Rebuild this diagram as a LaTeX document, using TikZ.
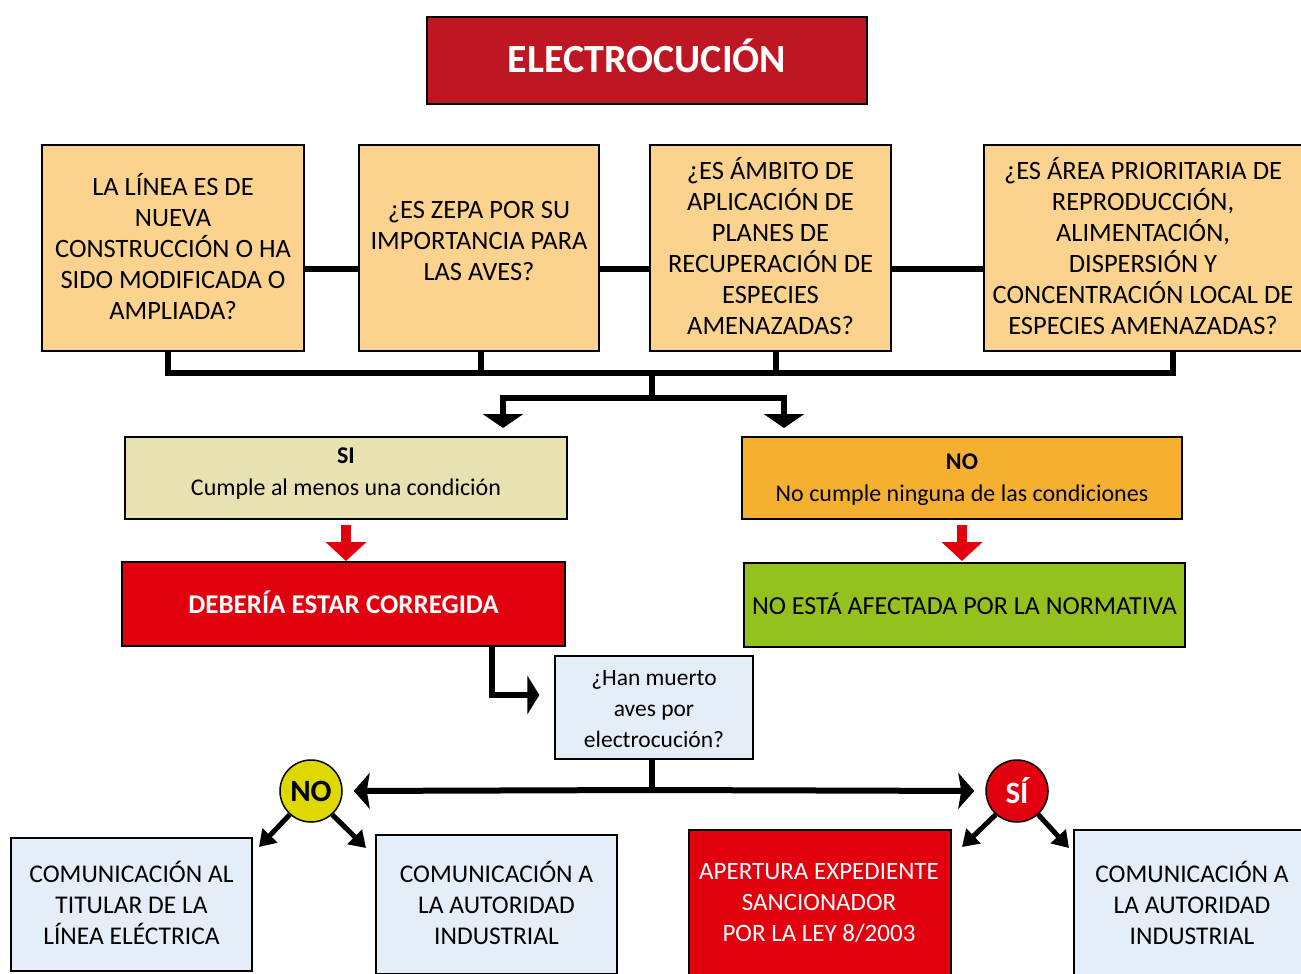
\documentclass[tikz,border=0pt]{standalone}
\usepackage{fontspec}
\setmainfont{Carlito}
\usetikzlibrary{arrows.meta,calc}
\definecolor{titlered}{RGB}{190,22,34}
\definecolor{peach}{RGB}{252,211,142}
\definecolor{beige}{RGB}{232,225,177}
\definecolor{orangeno}{RGB}{246,176,49}
\definecolor{brightred}{RGB}{226,0,15}
\definecolor{leaf}{RGB}{149,193,31}
\definecolor{paleblue}{RGB}{228,238,249}
\definecolor{yel}{RGB}{221,216,0}
\tikzset{
  box/.style={draw=black, line width=1.2pt, align=center, inner sep=0pt},
  toptext/.style={font=\fontsize{26.5}{31}\selectfont},
  bottext/.style={font=\fontsize{25.5}{31}\selectfont},
  bus/.style={line width=6pt, draw=black},
  treearrow/.style={bus, -{Triangle[width=40pt,length=14pt]}},
  redarrow/.style={line width=10pt, draw=brightred, -{Triangle[width=40pt,length=19pt]}},
  diagarrow/.style={line width=5pt, draw=black, -{Triangle[width=20pt,length=16pt]}},
  sidearrow/.style={line width=6pt, draw=black, -{Stealth[width=36pt,length=16pt,inset=3pt]}},
}
\begin{document}
\begin{tikzpicture}[x=1pt,y=-1pt]
\useasboundingbox (0,0) rectangle (1301,974);
% title
\node[box, fill=titlered, text=white, minimum width=440pt, minimum height=87pt, text depth=10pt,
  font=\fontsize{40}{44}\selectfont\bfseries] (title) at (647,60.5) {ELECTROCUCIÓN};
% top boxes
\node[box, toptext, fill=peach, minimum width=262pt, minimum height=206pt] (b1) at (173,248) {};
\node[toptext, align=center, inner sep=0pt] (b1t) at (173,247)
  {LA LÍNEA ES DE\\NUEVA\\CONSTRUCCIÓN O HA\\SIDO MODIFICADA O\\AMPLIADA?};
\node[box, fill=peach, minimum width=240pt, minimum height=206pt] (b2) at (479,248) {};
\node[toptext, align=center, inner sep=0pt] (b2t) at (479,240.5)
  {¿ES ZEPA POR SU\\IMPORTANCIA PARA\\LAS AVES?};
\node[box, fill=peach, minimum width=241pt, minimum height=206pt] (b3) at (770.5,248) {};
\node[toptext, align=center, inner sep=0pt] (b3t) at (770.5,246.5)
  {¿ES ÁMBITO DE\\APLICACIÓN DE\\PLANES DE\\RECUPERACIÓN DE\\ESPECIES\\AMENAZADAS?};
\node[box, fill=peach, minimum width=318pt, minimum height=206pt] (b4) at (1143,248) {};
\node[toptext, align=center, inner sep=0pt] (b4t) at (1143,246.5)
  {¿ES ÁREA PRIORITARIA DE\\REPRODUCCIÓN,\\ALIMENTACIÓN,\\DISPERSIÓN Y\\CONCENTRACIÓN LOCAL DE\\ESPECIES AMENAZADAS?};
% links between top boxes
\draw[bus] ([yshift=-21pt]b1.east) -- ([yshift=-21pt]b2.west);
\draw[bus] ([yshift=-21pt]b2.east) -- ([yshift=-21pt]b3.west);
\draw[bus] ([yshift=-21pt]b3.east) -- ([yshift=-21pt]b4.west);
% bus
\coordinate (busL) at (168,373);
\coordinate (busR) at (1173,373);
\coordinate (busM) at (652,373);
\draw[bus] ([xshift=-5pt]b1.south) -- (busL) -- (busR) -- ([xshift=30pt]b4.south);
\draw[bus] ([xshift=2pt]b2.south) -- ([xshift=2pt]b2.south |- busL);
\draw[bus] ([xshift=5.5pt]b3.south) -- ([xshift=5.5pt]b3.south |- busL);
\coordinate (split) at (652,398);
\coordinate (siA) at (503,428);
\coordinate (noA) at (784,428);
\draw[bus] (busM) -- (split);
\draw[treearrow] (split) -| (siA);
\draw[treearrow] (split) -| (noA);
% SI / NO boxes
\node[box, fill=beige, minimum width=442pt, minimum height=82pt] (si) at (346,478) {};
\node[align=center, inner sep=0pt, font=\fontsize{24}{32}\selectfont] (sit) at (346,474)
  {\textbf{SI}\\Cumple al menos una condición};
\node[box, fill=orangeno, minimum width=440pt, minimum height=82pt] (no) at (962,478) {};
\node[align=center, inner sep=0pt, font=\fontsize{24}{32}\selectfont] (not) at (962,480)
  {\textbf{NO}\\No cumple ninguna de las condiciones};
% red arrows
\draw[redarrow] ([yshift=-5pt]si.south) -- ([yshift=-5pt]si.south |- 0,556);
\draw[redarrow] ([yshift=-5pt]no.south) -- ([yshift=-5pt]no.south |- 0,556);
% result boxes
\node[box, fill=brightred, text=white, minimum width=443pt, minimum height=84pt, text depth=4pt,
  font=\fontsize{27}{30}\selectfont\bfseries] (deb) at (343.5,604) {DEBERÍA ESTAR CORREGIDA};
\node[box, fill=leaf, minimum width=441pt, minimum height=84pt, text depth=3pt,
  font=\fontsize{26}{30}\selectfont] (noaf) at (964.5,605) {NO ESTÁ AFECTADA POR LA NORMATIVA};
% question box
\node[box, fill=paleblue, minimum width=198pt, minimum height=103pt] (q) at (654,707.5) {};
\node[align=center, inner sep=0pt, font=\fontsize{23.5}{31}\selectfont] (qt) at (654,709)
  {¿Han muerto\\aves por\\electrocución?};
\coordinate (elbow) at (492,695);
\draw[line width=6pt, -{Triangle[width=38pt,length=12pt]}] (deb.south -| elbow) -- (elbow) -- ([xshift=-15pt]elbow -| q.west);
% circles
\node[circle, draw=black, line width=1.5pt, fill=yel, minimum size=62pt, inner sep=0pt,
  font=\fontsize{31}{34}\selectfont\bfseries] (nocirc) at (311,791) {NO};
\node[circle, draw=black, line width=1.5pt, fill=brightred, text=white, minimum size=62pt, inner sep=0pt,
  font=\fontsize{31}{34}\selectfont\bfseries] (sicirc) at (1017,791) {SÍ};
\coordinate (hj) at (652,790);
\draw[line width=6pt] (q.south -| hj) -- (hj);
\draw[sidearrow, shorten >=11pt] (hj) -- (nocirc.east);
\draw[sidearrow, shorten >=11pt] (hj) -- (sicirc.west);
% bottom boxes
\node[box, fill=paleblue, minimum width=241pt, minimum height=133pt] (c1) at (131.5,904.5) {};
\node[bottext, align=center, inner sep=0pt] (c1t) at (131.5,902.5)
  {COMUNICACIÓN AL\\TITULAR DE LA\\LÍNEA ELÉCTRICA};
\node[box, fill=paleblue, minimum width=241pt, minimum height=139pt] (c2) at (496.5,904.5) {};
\node[bottext, align=center, inner sep=0pt] (c2t) at (496.5,902.5)
  {COMUNICACIÓN A\\LA AUTORIDAD\\INDUSTRIAL};
\node[box, fill=brightred, minimum width=262pt, minimum height=150pt] (c3) at (820,905) {};
\node[align=center, inner sep=0pt, text=white, font=\fontsize{25}{31}\selectfont] (c3t) at (819,903)
  {APERTURA EXPEDIENTE\\SANCIONADOR\\POR LA LEY 8/2003};
\node[box, fill=paleblue, minimum width=230pt, minimum height=150pt] (c4) at (1189,905) {};
\node[bottext, align=center, inner sep=0pt] (c4t) at (1192,902.5)
  {COMUNICACIÓN A\\LA AUTORIDAD\\INDUSTRIAL};
% diagonal arrows
\coordinate (t1) at (259,847);
\coordinate (t2) at (366,848);
\coordinate (t3) at (962,847);
\coordinate (t4) at (1069,848);
\draw[diagarrow] (nocirc.-132) -- (t1);
\draw[diagarrow] (nocirc.-48) -- (t2);
\draw[diagarrow] (sicirc.-132) -- (t3);
\draw[diagarrow] (sicirc.-48) -- (t4);
\end{tikzpicture}
\end{document}
